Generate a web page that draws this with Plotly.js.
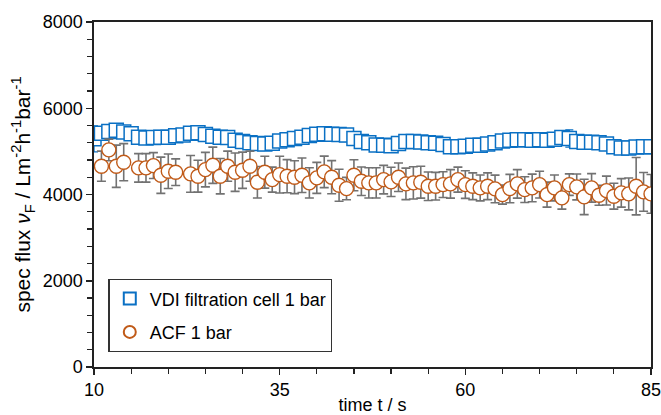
<!DOCTYPE html>
<html>
<head>
<meta charset="utf-8">
<script src="https://cdn.plot.ly/plotly-3.0.1.min.js"></script>
<style>html,body{margin:0;padding:0;background:#fff;}#chart{width:661px;height:415px;}</style>
</head>
<body>
<div id="chart"></div>
<script>
// VDI filtration cell 1 bar (squares)
const vdiTime = [10,11,12,13,14,15,16,17,18,19,20,21,22,23,24,25,26,27,28,29,30,31,32,33,34,35,36,37,38,39,40,41,42,43,44,45,46,47,48,49,50,51,52,53,54,55,56,57,58,59,60,61,62,63,64,65,66,67,68,69,70,71,72,73,74,75,76,77,78,79,80,81,82,83,84,85];
const vdiFlux = [5290,5420,5460,5490,5450,5410,5330,5310,5320,5330,5330,5360,5380,5420,5430,5390,5350,5330,5320,5260,5230,5200,5180,5170,5190,5240,5270,5300,5330,5370,5400,5410,5400,5390,5380,5300,5230,5200,5150,5140,5130,5180,5230,5230,5220,5200,5190,5160,5110,5110,5120,5140,5140,5170,5200,5240,5260,5270,5270,5260,5270,5260,5280,5320,5300,5230,5210,5210,5200,5170,5110,5080,5080,5100,5110,5110];
const vdiErr = [300,100,100,100,100,100,100,100,100,100,100,100,100,100,100,100,100,100,100,100,100,100,100,100,100,100,100,100,100,100,100,100,100,100,100,100,100,100,100,100,100,100,100,100,100,100,100,100,100,100,100,100,100,100,100,100,100,100,100,100,100,100,100,100,200,100,100,100,100,100,100,100,100,100,100,100];

// ACF 1 bar (circles)
const acfTime = [11,12,13,14,16,17,18,19,20,21,23,24,25,26,27,28,29,30,31,32,33,34,35,36,37,38,39,40,41,42,43,44,45,46,47,48,49,50,51,52,53,54,55,56,57,58,59,60,61,62,63,64,65,66,67,68,69,70,71,72,73,74,75,76,77,78,79,80,81,82,83,84,85];
const acfFlux = [4656,5034,4656,4749,4617,4617,4670,4447,4540,4517,4478,4424,4577,4679,4424,4656,4517,4563,4656,4285,4517,4345,4461,4424,4401,4447,4269,4385,4524,4401,4215,4137,4447,4308,4269,4269,4345,4292,4401,4246,4269,4285,4192,4192,4229,4246,4345,4229,4192,4153,4192,4130,3997,4137,4246,4113,4153,4229,3997,4153,3921,4229,4176,3944,4153,3983,4090,3960,4037,4014,4192,4060,4014];
const acfErr = [350,250,490,430,330,330,300,420,400,310,425,370,400,420,410,350,445,420,350,365,370,290,425,385,380,400,350,360,365,385,370,260,360,330,350,350,330,340,330,365,375,370,330,320,300,330,290,320,310,300,310,320,220,330,330,300,320,310,290,300,260,250,300,410,330,232,335,300,330,370,665,450,450];

const xTicks = [10,35,60,85];
const yTicks = [0,2000,4000,6000,8000];

const FONT = 'Liberation Sans, Arial, sans-serif';
const blue = '#0a70c4';
const orange = '#c05a18';

const traces = [
  {
    x: vdiTime, y: vdiFlux, type: 'scatter', mode: 'markers',
    name: 'VDI filtration cell 1 bar',
    legendgroup: 'a',
    marker: {symbol: 'square', size: 14, color: '#ffffff', line: {color: blue, width: 1.5}},
    error_y: {type: 'data', array: vdiErr, visible: true, color: blue, thickness: 1.3, width: 4}
  },
  {
    x: acfTime, y: acfFlux, type: 'scatter', mode: 'markers',
    name: 'ACF 1 bar',
    legendgroup: 'b',
    marker: {symbol: 'circle', size: 14, color: '#ffffff', line: {color: orange, width: 1.4}},
    error_y: {type: 'data', array: acfErr, visible: true, color: '#727272', thickness: 1.6, width: 4.5}
  }
];

const axisCommon = {
  showgrid: false, zeroline: false, showline: true, linecolor: '#222', linewidth: 1.6,
  mirror: true, ticks: 'outside', ticklen: 6, tickwidth: 1.5, tickcolor: '#222',
  tickfont: {family: FONT, size: 18, color: '#000'}
};

const layout = {
  width: 661, height: 415,
  margin: {l: 94, r: 10, t: 22, b: 48},
  paper_bgcolor: '#ffffff', plot_bgcolor: '#ffffff',
  font: {family: FONT, color: '#000'},
  showlegend: true,
  xaxis: Object.assign({}, axisCommon, {
    range: [10, 85], tickmode: 'array', tickvals: xTicks, ticktext: xTicks.map(String),
    ticklabeloverflow: 'allow',
    minor: {dtick: 5, tick0: 10, ticks: 'outside', ticklen: 5, tickwidth: 1.2, tickcolor: '#222'},
    title: {text: 'time t / s', font: {family: FONT, size: 18, color: '#000'}, standoff: 0},
    automargin: false
  }),
  yaxis: Object.assign({}, axisCommon, {
    range: [0, 8000], tickmode: 'array', tickvals: yTicks, ticktext: yTicks.map(String),
    minor: {dtick: 400, tick0: 0, ticks: 'outside', ticklen: 5, tickwidth: 1.2, tickcolor: '#222'},
    title: {text: 'spec flux <i>ν</i><sub>F</sub> / Lm<sup>-2</sup>h<sup>-1</sup>bar<sup>-1</sup>', font: {family: FONT, size: 21, color: '#000'}, standoff: 6},
    automargin: false
  }),
  xaxis2: {overlaying: 'x', anchor: 'y', side: 'bottom', range: [10, 85], tickmode: 'array', tickvals: xTicks,
    showticklabels: false, ticks: 'inside', ticklen: 6, tickwidth: 1.5, tickcolor: '#222', showgrid: false, zeroline: false, showline: false},
  yaxis2: {overlaying: 'y', anchor: 'x', side: 'left', range: [0, 8000], tickmode: 'array', tickvals: yTicks,
    showticklabels: false, ticks: 'inside', ticklen: 6, tickwidth: 1.5, tickcolor: '#222', showgrid: false, zeroline: false, showline: false},
  legend: {
    x: 0.026, y: 0.255, xanchor: 'left', yanchor: 'top',
    bgcolor: '#ffffff', bordercolor: '#333', borderwidth: 1.3,
    font: {family: FONT, size: 18, color: '#000'},
    itemsizing: 'constant', itemwidth: 30,
    traceorder: 'grouped', tracegroupgap: 7
  }
};

Plotly.newPlot('chart', traces, layout, {displayModeBar: false, staticPlot: true});
</script>
</body>
</html>
